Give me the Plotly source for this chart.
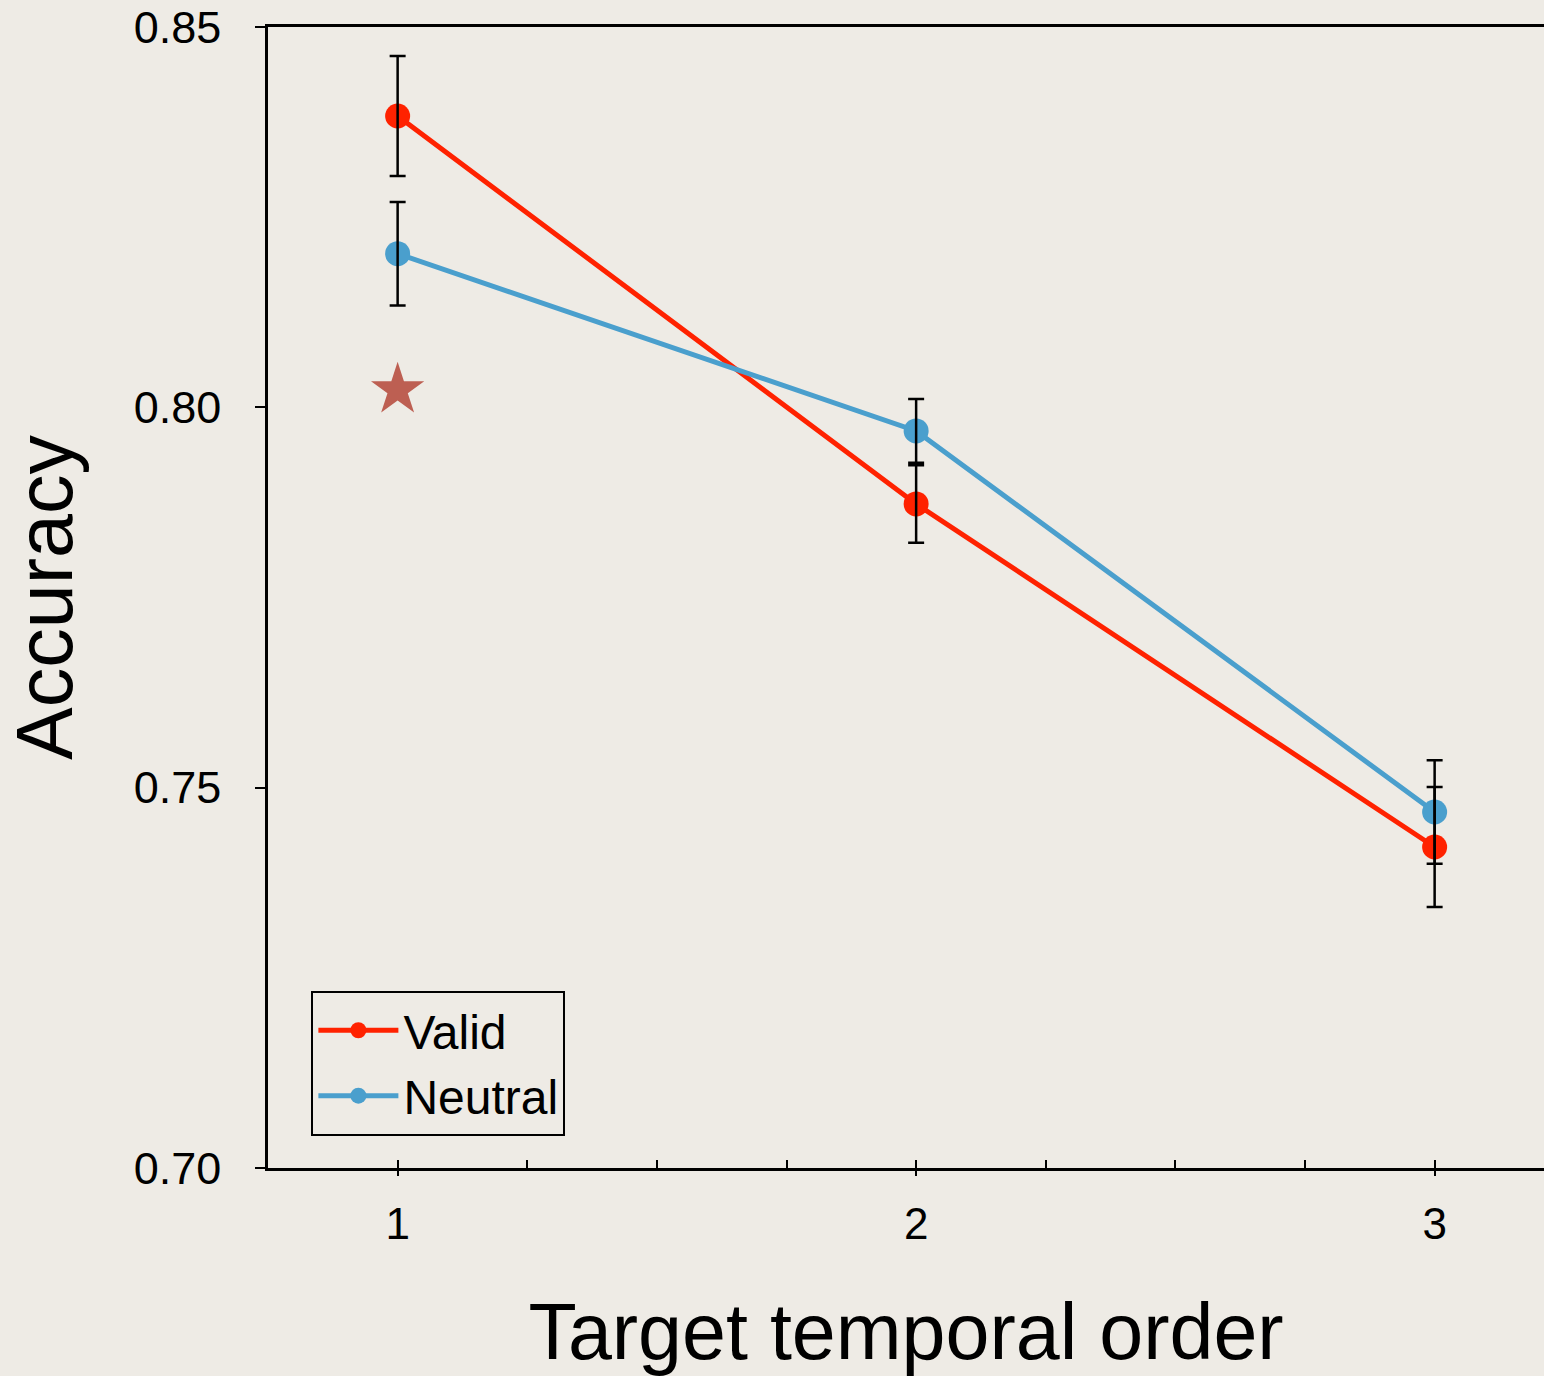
import plotly.graph_objects as go

order = [1, 2, 3]
valid = [0.8383, 0.7873, 0.7422]
valid_err = [0.0079, 0.0051, 0.0079]
neutral = [0.8202, 0.7969, 0.7468]
neutral_err = [0.0068, 0.0042, 0.0068]
star_x = [1]
star_y = [0.8023]

RED = "#ff2200"
BLUE = "#4a9fcd"
FONT = "Liberation Sans, Arial, Helvetica, sans-serif"
BG = "#eeebe5"

fig = go.Figure()

fig.add_trace(go.Scatter(
    x=order, y=valid, mode="lines+markers", name="Valid",
    line=dict(color=RED, width=5), marker=dict(color=RED, size=25),
))
fig.add_trace(go.Scatter(
    x=order, y=neutral, mode="lines+markers", name="Neutral",
    line=dict(color=BLUE, width=5), marker=dict(color=BLUE, size=25),
))
# error bars drawn on top of markers
for vals, errs in ((valid, valid_err), (neutral, neutral_err)):
    fig.add_trace(go.Scatter(
        x=order, y=vals, mode="markers", showlegend=False, hoverinfo="skip",
        marker=dict(size=1, color="rgba(0,0,0,0)"),
        error_y=dict(type="data", array=errs, visible=True,
                     color="#000000", thickness=2.5, width=8),
        xaxis="x2",
    ))
fig.add_trace(go.Scatter(
    x=star_x, y=star_y, mode="markers", showlegend=False,
    marker=dict(symbol="star", size=40, color="rgba(176,60,45,0.8)",
                line=dict(width=0)),
))

fig.update_layout(
    width=1544, height=1376,
    margin=dict(l=268, r=0, t=27, b=208, autoexpand=False),
    paper_bgcolor=BG, plot_bgcolor=BG,
    font=dict(family=FONT, size=45, color="#000000"),
    showlegend=True,
    legend=dict(
        x=0.034, y=0.092, xanchor="left", yanchor="middle",
        bgcolor="rgba(0,0,0,0)", bordercolor="#000000", borderwidth=2,
        font=dict(family=FONT, size=48, color="#000000"),
        itemwidth=80, tracegroupgap=0,
    ),
    xaxis=dict(
        range=[0.75, 0.75 + 1276 / 518.5],
        tickvals=order, ticktext=["1", "2", "3"],
        ticks="inside", ticklen=8, tickwidth=2, tickcolor="#000000",
        minor=dict(dtick=0.25, tick0=0.75, ticks="inside", ticklen=8,
                   tickwidth=2, tickcolor="#000000", showgrid=False),
        showline=True, linecolor="#000000", linewidth=2.5, mirror=True,
        showgrid=False, zeroline=False, automargin=False,
        tickfont=dict(size=44), ticklabelstandoff=15,
        title=dict(text="Target temporal order", font=dict(size=79),
                   standoff=58),
    ),
    xaxis2=dict(
        range=[0.75, 0.75 + 1276 / 518.5],
        overlaying="x", anchor="y", side="bottom",
        tickvals=order, ticks="outside", ticklen=7, tickwidth=2,
        tickcolor="#000000", showticklabels=False, automargin=False,
        showline=False, showgrid=False, zeroline=False,
    ),
    yaxis=dict(
        range=[0.70, 0.85],
        tickvals=[0.70, 0.75, 0.80, 0.85],
        ticktext=["0.70", "0.75", "0.80", "0.85"],
        ticks="outside", ticklen=10, tickwidth=2, tickcolor="#000000",
        showline=True, linecolor="#000000", linewidth=2.5, mirror=False,
        showgrid=False, zeroline=False, automargin=False,
        tickfont=dict(size=45), ticklabelstandoff=25,
        title=dict(text="Accuracy", font=dict(size=79), standoff=46),
    ),
)

fig.write_html("out.html")
